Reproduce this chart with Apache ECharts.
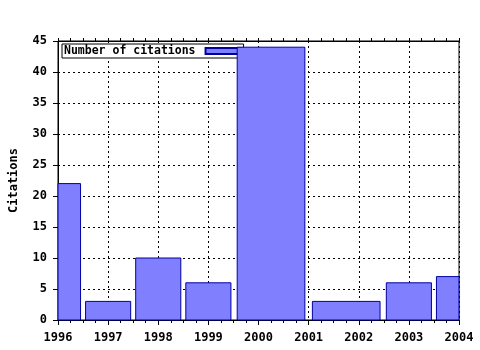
<!DOCTYPE html>
<html><head><meta charset="utf-8">
<script src="https://cdn.jsdelivr.net/npm/echarts@6/dist/echarts.min.js"></script>
<style>html,body{margin:0;padding:0;background:#fff}#c{width:480px;height:350px}</style>
</head><body><div id="c"></div>
<script>
var binStart = [1995.5, 1996.5, 1997.5, 1998.5, 1999.5, 2001.0, 2002.5, 2003.5];
var binEnd   = [1996.5, 1997.5, 1998.5, 1999.5, 2001.0, 2002.5, 2003.5, 2004.5];
var citations = [22, 3, 10, 6, 44, 3, 6, 7];
var seriesName = 'Number of citations';
var yTitle = 'Citations';

var data = binStart.map(function (s, i) { return [s, binEnd[i], citations[i]]; });
var FONT = '"DejaVu Sans Mono", monospace';
var chart = echarts.init(document.getElementById('c'), null, {renderer: 'canvas'});
chart.setOption({
  animation: false,
  backgroundColor: '#fff',
  grid: {left: 57, right: 21, top: 41, bottom: 30, show: true, borderColor: '#000', borderWidth: 1, backgroundColor: 'transparent'},
  legend: {
    show: true, left: 62, top: 44, z: 1, icon: 'rect', align: 'right',
    itemWidth: 36, itemHeight: 6, padding: [1, 1, 1, 2],
    borderColor: '#000', borderWidth: 1, backgroundColor: '#fff',
    textStyle: {fontFamily: FONT, fontWeight: 'bold', fontSize: 11.5, color: '#000', padding: [0, 5, 0, 0]},
    data: [seriesName]
  },
  xAxis: [{
    type: 'value', min: 1996, max: 2004, interval: 1, position: 'bottom',
    axisLine: {show: true, lineStyle: {color: '#000'}},
    axisTick: {show: true, length: 5, lineStyle: {color: '#000'}},
    minorTick: {show: true, splitNumber: 4, length: 3, lineStyle: {color: '#000'}},
    splitLine: {show: true, lineStyle: {color: '#000', type: [2, 3]}},
    axisLabel: {color: '#000', fontFamily: FONT, fontWeight: 'bold', fontSize: 12, margin: 12,
      formatter: function (v) { return String(v); }}
  }, {
    type: 'value', min: 1996, max: 2004, interval: 1, position: 'top',
    axisLine: {show: true, lineStyle: {color: '#000'}},
    axisTick: {show: true, length: 3, lineStyle: {color: '#000'}},
    minorTick: {show: true, splitNumber: 4, length: 3, lineStyle: {color: '#000'}},
    splitLine: {show: false}, axisLabel: {show: false}
  }],
  yAxis: [{
    type: 'value', min: 0, max: 45, interval: 5,
    name: yTitle, nameLocation: 'middle', nameGap: 38, nameRotate: 90,
    nameTextStyle: {fontFamily: FONT, fontWeight: 'bold', fontSize: 12, color: '#000'},
    axisLine: {show: true, lineStyle: {color: '#000'}},
    axisTick: {show: true, length: 5, lineStyle: {color: '#000'}},
    splitLine: {show: true, lineStyle: {color: '#000', type: [2, 3]}},
    axisLabel: {color: '#000', fontFamily: FONT, fontWeight: 'bold', fontSize: 12, margin: 11}
  }],
  series: [{
    type: 'custom', name: seriesName, z: 3,
    itemStyle: {color: '#8080ff', borderColor: '#0000a0', borderWidth: 1},
    encode: {x: [0, 1], y: 2},
    data: data,
    renderItem: function (params, api) {
      var s = api.value(0), e = api.value(1), w = e - s;
      var p0 = api.coord([s + 0.05 * w, api.value(2)]);
      var p1 = api.coord([e - 0.05 * w, 0]);
      var cs = params.coordSys;
      var shape = echarts.graphic.clipRectByRect(
        {x: p0[0], y: p0[1], width: p1[0] - p0[0], height: p1[1] - p0[1]},
        {x: cs.x, y: cs.y, width: cs.width, height: cs.height});
      if (!shape) return null;
      return {type: 'rect', shape: shape,
        style: {fill: '#8080ff', stroke: '#0000a0', lineWidth: 1}};
    }
  }]
});
</script></body></html>
